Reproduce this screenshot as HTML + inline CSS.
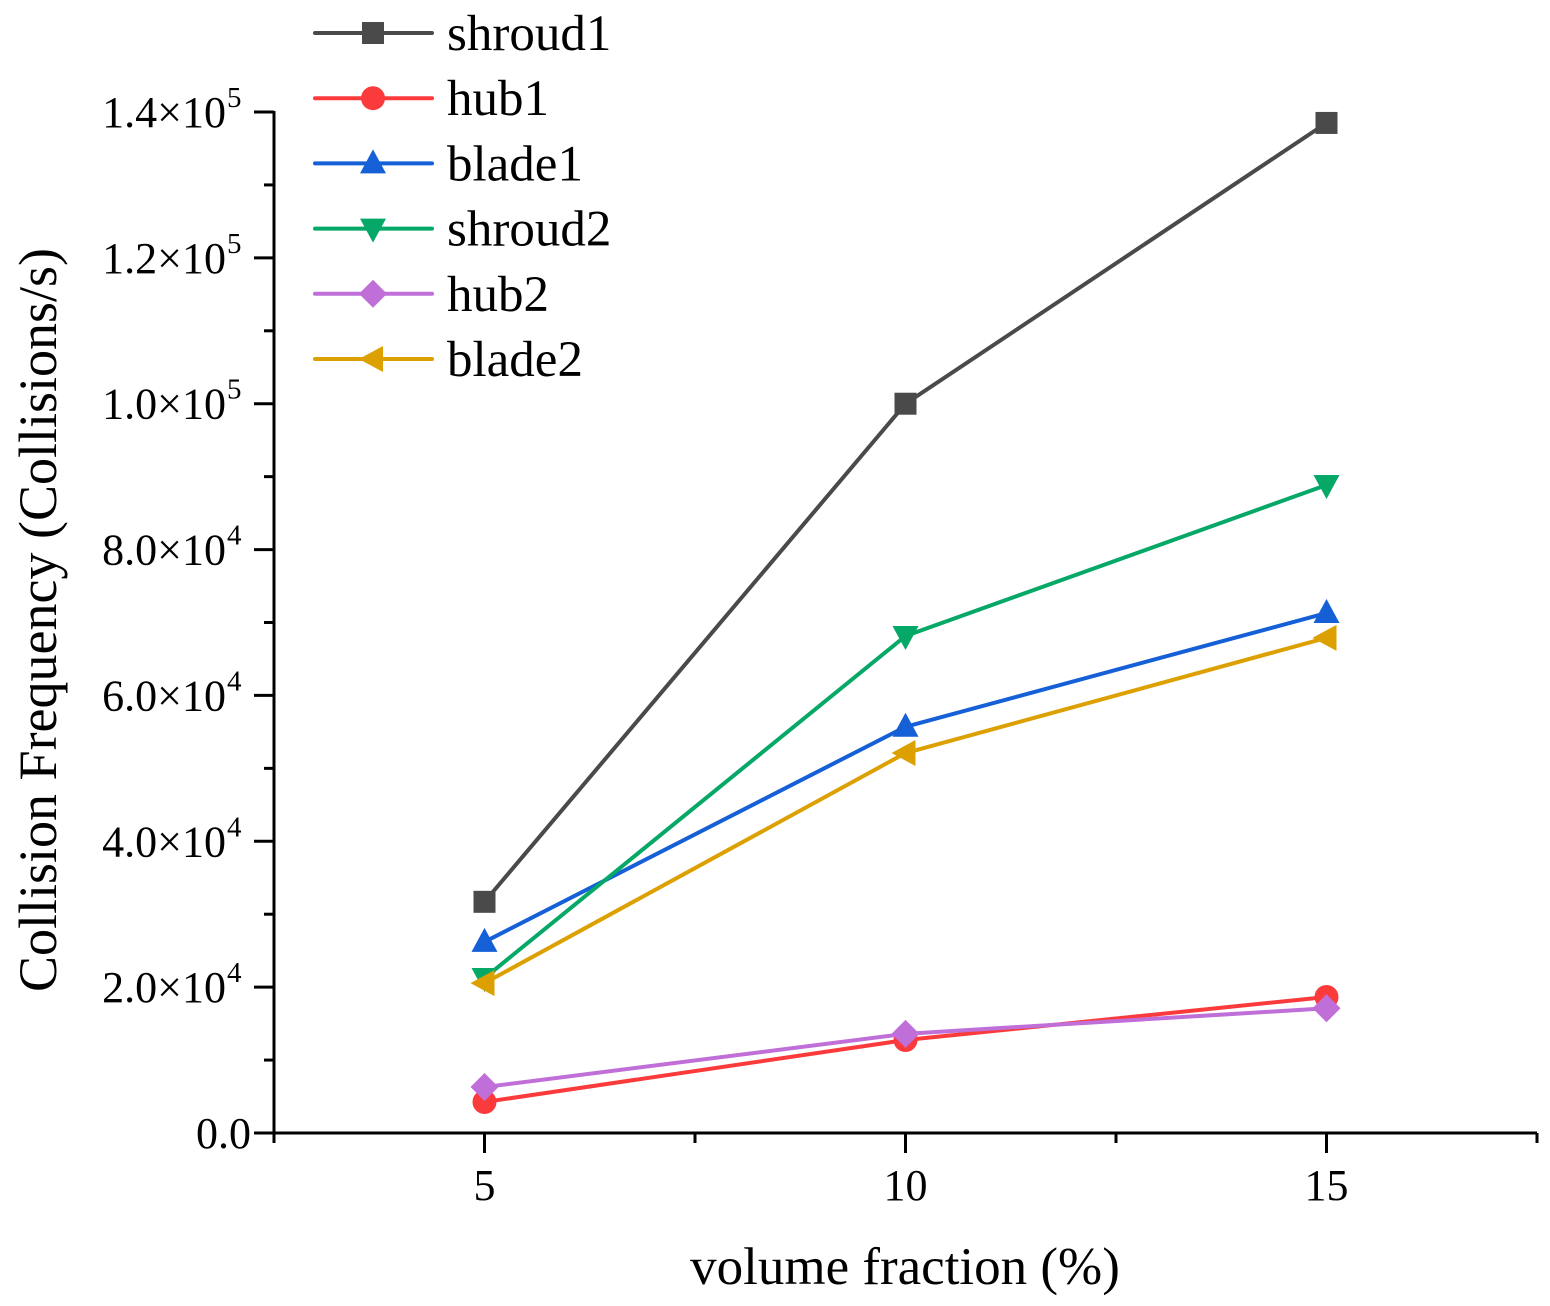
<!DOCTYPE html>
<html><head><meta charset="utf-8"><style>
html,body{margin:0;padding:0;background:#fff;}
svg text{font-family:"Liberation Serif",serif;fill:#000;}
</style></head><body>
<svg id="chart" width="1550" height="1301" viewBox="0 0 1550 1301" xmlns="http://www.w3.org/2000/svg"></svg>
<script>
const categories = [5, 10, 15];
const seriesNames = ["shroud1","hub1","blade1","shroud2","hub2","blade2"];
const shroud1 = [31700, 100000, 138500];
const hub1 = [4250, 12750, 18650];
const blade1 = [26200, 55700, 71300];
const shroud2 = [21250, 68150, 88850];
const hub2 = [6300, 13600, 17100];
const blade2 = [20550, 52100, 67900];
const yTickValues = [0, 20000, 40000, 60000, 80000, 100000, 120000, 140000];
const yTickMant = ["0.0","2.0","4.0","6.0","8.0","1.0","1.2","1.4"];
const yTickExp = ["", "4","4","4","4","5","5","5"];
const xTickValues = [5, 10, 15];

const NS="http://www.w3.org/2000/svg";
const svg=document.getElementById('chart');
const X0=274, X1=1537, XMIN=2.5, XMAX=17.5;
const Y0=1133, Y1=112, YMIN=0, YMAX=140000;
function xs(v){return X0+(v-XMIN)/(XMAX-XMIN)*(X1-X0);}
function ys(v){return Y0-(v-YMIN)/(YMAX-YMIN)*(Y0-Y1);}
function mk(tag,attrs,parent){const e=document.createElementNS(NS,tag);for(const k in attrs)e.setAttribute(k,attrs[k]);(parent||svg).appendChild(e);return e;}

const colors=["#4a4a4a","#fb3b3b","#1560d6","#06a868","#c06ed8","#dca000"];
const shapes=["square","circle","up","down","diamond","left"];
const data=[shroud1,hub1,blade1,shroud2,hub2,blade2];

function marker(shape,cx,cy,color,g){
  let e;
  if(shape==="square") e=mk('rect',{x:cx-11,y:cy-11,width:22,height:22,fill:color},g);
  else if(shape==="circle") e=mk('circle',{cx:cx,cy:cy,r:12,fill:color},g);
  else if(shape==="up") e=mk('polygon',{points:`${cx},${cy-14} ${cx+13},${cy+10} ${cx-13},${cy+10}`,fill:color},g);
  else if(shape==="down") e=mk('polygon',{points:`${cx},${cy+14} ${cx+13},${cy-10} ${cx-13},${cy-10}`,fill:color},g);
  else if(shape==="diamond") e=mk('polygon',{points:`${cx},${cy-14} ${cx+14},${cy} ${cx},${cy+14} ${cx-14},${cy}`,fill:color},g);
  else e=mk('polygon',{points:`${cx-14},${cy} ${cx+10},${cy-13} ${cx+10},${cy+13}`,fill:color},g);
  return e;
}

const axes=mk('g',{});


const yl=mk('line',{x1:X0,y1:Y0+1.5,x2:X0,y2:Y1-1,stroke:'#000','stroke-width':3},axes);


const xl=mk('line',{x1:X0-1.5,y1:Y0,x2:X1,y2:Y0,stroke:'#000','stroke-width':3},axes);



for(let v=0; v<=YMAX; v+=10000){
  const major=(v%20000===0);
  const y=ys(v);
  mk('line',{x1:X0-(major?20:10),y1:y,x2:X0,y2:y,stroke:'#000','stroke-width':3},axes);
}
yTickValues.forEach((v,i)=>{
  const y=ys(v);
  const t=mk('text',{x:yTickExp[i]?226:251,y:y+15,'font-size':44,'text-anchor':'end'});
  
  
  if(yTickExp[i]){
    t.textContent=yTickMant[i]+"×10";
    const s=mk('text',{x:227,y:y-5,'font-size':29});
    
    
    s.textContent=yTickExp[i];
  } else t.textContent=yTickMant[i];
});
for(let v=XMIN; v<=XMAX+0.01; v+=2.5){
  const major=(v%5===0);
  const x=xs(v);
  mk('line',{x1:x,y1:Y0,x2:x,y2:Y0+(major?20:10),stroke:'#000','stroke-width':3},axes);
}
xTickValues.forEach(v=>{
  const t=mk('text',{x:xs(v),y:1200,'font-size':44,'text-anchor':'middle'});
  
  
  t.textContent=v;
});
const xt=mk('text',{x:905,y:1284,'font-size':53,'text-anchor':'middle'});


xt.textContent="volume fraction (%)";
const yt=mk('text',{x:0,y:0,'font-size':54,'text-anchor':'middle',transform:'translate(56,620) rotate(-90)'});


yt.textContent="Collision Frequency (Collisions/s)";

data.forEach((arr,si)=>{
  const g=mk('g',{});
  
  
  const pts=arr.map((v,i)=>xs(categories[i])+','+ys(v)).join(' ');
  const pl=mk('polyline',{points:pts,fill:'none',stroke:colors[si],'stroke-width':4,'stroke-linejoin':'round'},g);
  
  
  arr.forEach((v,i)=>{
    const m=marker(shapes[si],xs(categories[i]),ys(v),colors[si],g);
    
    
  });
});

const lg=mk('g',{});


seriesNames.forEach((n,i)=>{
  const y=33+i*65.2;
  const e=mk('g',{},lg);
  
  
  mk('line',{x1:315,y1:y,x2:432,y2:y,stroke:colors[i],'stroke-width':4,'stroke-linecap':'round'},e);
  marker(shapes[i],373,y,colors[i],e);
  const t=mk('text',{x:447,y:y+17,'font-size':51},e);
  t.textContent=n;
});
</script>
</body></html>
